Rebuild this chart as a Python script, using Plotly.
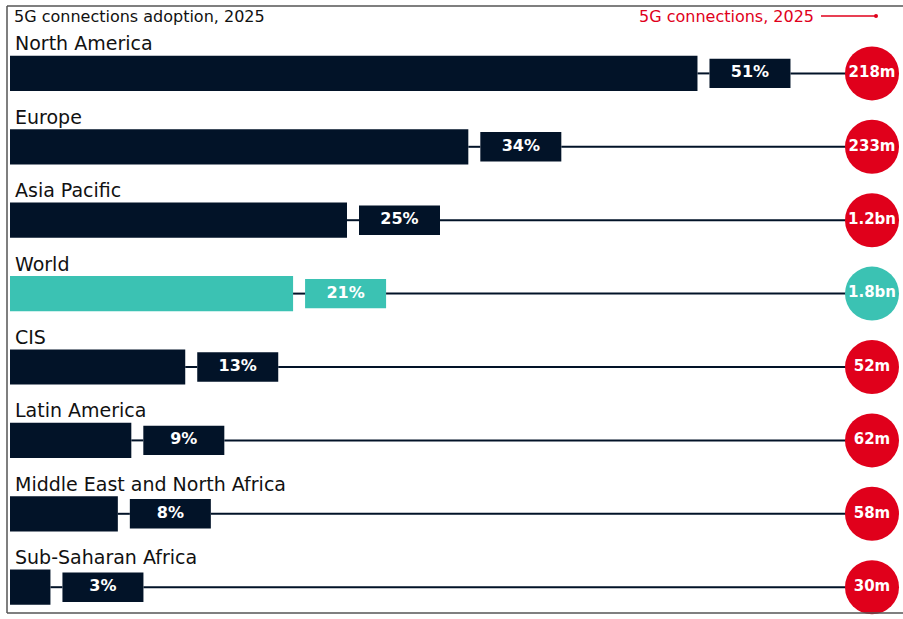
import plotly.graph_objects as go

# ---- data ----
regions = ["North America", "Europe", "Asia Pacific", "World", "CIS",
           "Latin America", "Middle East and North Africa", "Sub-Saharan Africa"]
adoption = [51, 34, 25, 21, 13, 9, 8, 3]
connections = ["218m", "233m", "1.2bn", "1.8bn", "52m", "62m", "58m", "30m"]
highlight = "World"

title_text = "5G connections adoption, 2025"
legend_text = "5G connections, 2025"

# ---- style ----
W, H = 903, 619
NAVY = "#021328"
TEAL = "#3bc2b3"
RED = "#e0001b"
FONT = "DejaVu Sans, Roboto, Arial"
PX_PER_UNIT = 13.48           # pixels per percentage point
X0_PX = 10                    # pixel of 0%
ROW_PX = 73.4                 # pixels per row
GAP = 12 / PX_PER_UNIT        # gap between bar and label box
BOX_W = 81 / PX_PER_UNIT      # label box width
CIRCLE_X = (872 - X0_PX) / PX_PER_UNIT

xr = [-X0_PX / PX_PER_UNIT, (W - X0_PX) / PX_PER_UNIT]
yr = [H / ROW_PX - 1, -1]

n = len(regions)
rows = list(range(n))
colors = [TEAL if r == highlight else NAVY for r in regions]
box_start = [v + GAP for v in adoption]
box_end = [b + BOX_W for b in box_start]

fig = go.Figure()

# connector lines (bar -> box, box -> circle)
for i, v in enumerate(adoption):
    fig.add_trace(go.Scatter(x=[v, box_start[i], None, box_end[i], CIRCLE_X],
                             y=[i, i, None, i, i], mode="lines",
                             line=dict(color=NAVY, width=2), hoverinfo="skip",
                             showlegend=False))

# main bars
fig.add_trace(go.Bar(y=rows, x=adoption, base=0, orientation="h", width=0.48,
                     marker=dict(color=colors, line=dict(width=0)),
                     showlegend=False, hoverinfo="skip"))

# label boxes
fig.add_trace(go.Bar(y=rows, x=[BOX_W] * n, base=box_start,
                     orientation="h", width=0.4,
                     marker=dict(color=colors, line=dict(width=0)),
                     showlegend=False, hoverinfo="skip"))
fig.add_trace(go.Scatter(x=[b + BOX_W / 2 for b in box_start], y=rows, mode="text",
                         text=[f"<b>{v}%</b>" for v in adoption],
                         textposition="middle center",
                         textfont=dict(color="white", size=16, family=FONT),
                         showlegend=False, hoverinfo="skip"))

# circles
circ_colors = [TEAL if r == highlight else RED for r in regions]
fig.add_trace(go.Scatter(x=[CIRCLE_X] * n, y=rows, mode="markers+text",
                         marker=dict(size=54, color=circ_colors, line=dict(width=0)),
                         text=[f"<b>{c}</b>" for c in connections],
                         textposition="middle center",
                         textfont=dict(color="white", size=15, family=FONT),
                         showlegend=False, hoverinfo="skip", cliponaxis=False))

# row labels
for i, r in enumerate(regions):
    fig.add_annotation(x=xr[0] + 13 / PX_PER_UNIT, y=i - 30 / ROW_PX, xref="x", yref="y",
                       text=r, showarrow=False, xanchor="left", yanchor="middle",
                       font=dict(size=19, color="#111", family=FONT))

# title and legend
fig.add_annotation(x=12 / W, y=1 - 16 / H, xref="paper", yref="paper", text=title_text,
                   showarrow=False, xanchor="left", yanchor="middle",
                   font=dict(size=16, color="#111", family=FONT))
fig.add_annotation(x=816 / W, y=1 - 16 / H, xref="paper", yref="paper", text=legend_text,
                   showarrow=False, xanchor="right", yanchor="middle",
                   font=dict(size=16, color=RED, family=FONT))

shapes = [
    dict(type="line", xref="paper", yref="paper", x0=821 / W, x1=876 / W,
         y0=1 - 16 / H, y1=1 - 16 / H, line=dict(color=RED, width=1.5)),
    dict(type="circle", xref="paper", yref="paper", x0=874 / W, x1=878 / W,
         y0=1 - 18 / H, y1=1 - 14 / H, fillcolor=RED, line=dict(width=0)),
    # frame
    dict(type="line", xref="paper", yref="paper", x0=7 / W, x1=1, y0=1 - 6 / H, y1=1 - 6 / H,
         line=dict(color="#555", width=1.5)),
    dict(type="line", xref="paper", yref="paper", x0=7 / W, x1=7 / W, y0=1 - 6 / H, y1=1 - 613 / H,
         line=dict(color="#555", width=1.5)),
    dict(type="line", xref="paper", yref="paper", x0=7 / W, x1=1, y0=1 - 613 / H, y1=1 - 613 / H,
         line=dict(color="#555", width=1.5)),
]

fig.update_layout(
    width=W, height=H, margin=dict(l=0, r=0, t=0, b=0),
    paper_bgcolor="white", plot_bgcolor="white",
    xaxis=dict(range=xr, visible=False, fixedrange=True),
    yaxis=dict(range=yr, visible=False, fixedrange=True),
    barmode="overlay", shapes=shapes, font=dict(family=FONT),
)

fig.write_html("out.html", config={"displayModeBar": False},
               post_script="document.body.style.margin='0px';document.body.style.overflow='hidden';")
